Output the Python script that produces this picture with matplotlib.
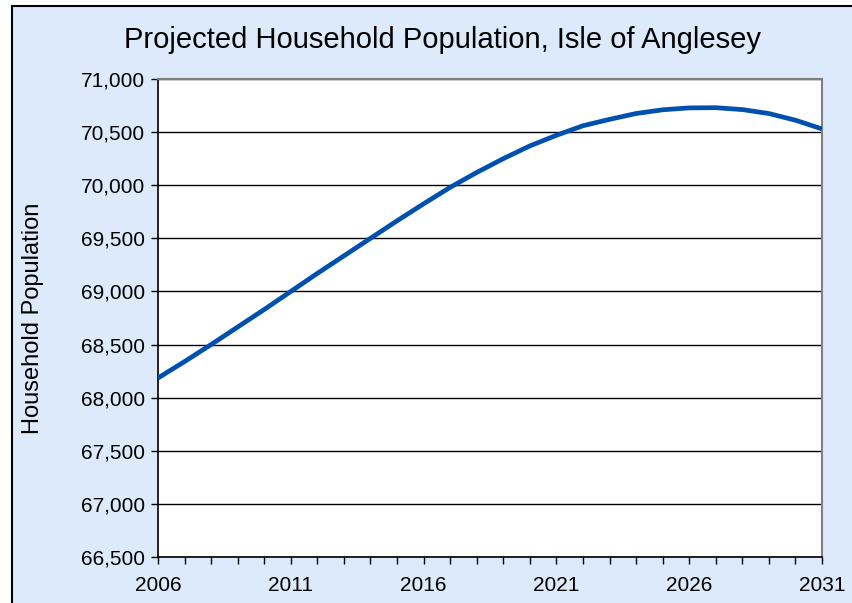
import numpy as np
import matplotlib.pyplot as plt
from matplotlib.patches import Rectangle
from matplotlib.ticker import FuncFormatter, MultipleLocator

years = list(range(2006, 2032))
population = [68185, 68340, 68500, 68665, 68830, 69000, 69170, 69335, 69500,
              69665, 69825, 69980, 70120, 70250, 70370, 70470, 70560, 70620,
              70675, 70710, 70728, 70730, 70712, 70675, 70612, 70530]
xticks = [2006, 2011, 2016, 2021, 2026, 2031]

plt.rcParams['font.family'] = ['Liberation Sans', 'DejaVu Sans']

fig = plt.figure(figsize=(8.52, 6.03), dpi=100)
fig.patch.set_facecolor('white')
# light blue chart area with black edge on the left/top
fig.patches.append(Rectangle((12/852, -0.05), 1.0, 1 - 6/603 + 0.05,
                             transform=fig.transFigure, facecolor='#DCEAFC',
                             edgecolor='black', linewidth=1.5, zorder=-5))

ax = fig.add_axes([158/852, 1 - 557/603, (822 - 158)/852, (557 - 79)/603])
ax.set_facecolor('white')
ax.plot(years, population, color='#0050B0', linewidth=3.4, solid_capstyle='butt', zorder=3)

ax.set_xlim(2006, 2031)
ax.set_ylim(66500, 71000)
ax.set_xticks(xticks)
ax.xaxis.set_minor_locator(MultipleLocator(1))
ax.yaxis.set_major_locator(MultipleLocator(500))
ax.yaxis.set_major_formatter(FuncFormatter(lambda v, p: f'{int(v):,}'))
ax.grid(axis='y', color='black', linewidth=1)
ax.set_axisbelow(True)

ax.tick_params(axis='both', which='both', direction='out', length=5, width=1,
               labelsize=15, color='black')
ax.tick_params(axis='x', which='major', pad=9)
ax.tick_params(axis='y', pad=4)
for s in ['left', 'bottom']:
    ax.spines[s].set_color('black')
    ax.spines[s].set_linewidth(1.2)
for s in ['top', 'right']:
    ax.spines[s].set_color('#808080')
    ax.spines[s].set_linewidth(1.5)

fig.text(33/852, 1 - 318/603, 'Household Population', rotation=90,
         ha='center', va='center', fontsize=17)
fig.text(443/852, 1 - 40/603, 'Projected Household Population, Isle of Anglesey',
         ha='center', va='center', fontsize=21)

fig.savefig('out.png', dpi=100, facecolor=fig.get_facecolor())
